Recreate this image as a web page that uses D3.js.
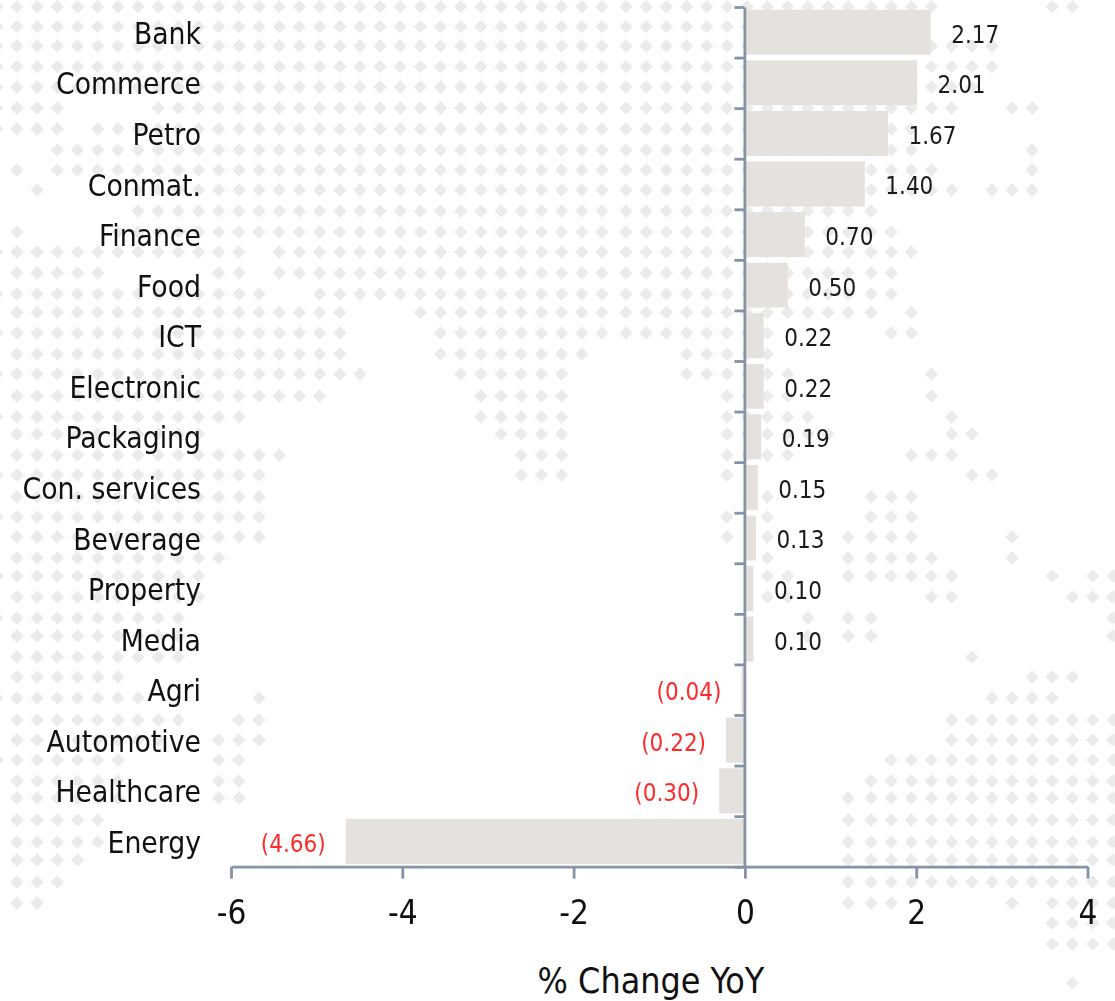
<!DOCTYPE html>
<html>
    <head>
        <meta charset="utf-8">
        <title>% Change YoY by sector</title>
        <script src="https://d3js.org/d3.v7.min.js"></script>
        <style>
            html, body { margin: 0; padding: 0; background: #fff; }
            svg { display: block; }
            text { font-family: "DejaVu Sans", sans-serif; font-stretch: condensed; }
            .map { filter: blur(0.4px); }
        </style>
    </head>
    <body>
        <script>
            const categories = ["Bank", "Commerce", "Petro", "Conmat.", "Finance", "Food", "ICT", "Electronic",
                "Packaging", "Con. services", "Beverage", "Property", "Media", "Agri", "Automotive", "Healthcare", "Energy"];
            const values = [2.17, 2.01, 1.67, 1.40, 0.70, 0.50, 0.22, 0.22, 0.19, 0.15, 0.13, 0.10, 0.10, -0.04, -0.22, -0.30, -4.66];
            const xTicks = [-6, -4, -2, 0, 2, 4];
            const xTitle = "% Change YoY";

            // dotted world map behind the chart: column ranges, one list per grid row
            const mapRows = [
                [[-1,45],[51,52]], [[-1,44]], [[-1,48]], [[-1,48]], [[-1,47]],
                [[-1,2],[7,46],[49,50]], [[-1,2],[4,44]], [[2,44],[50,50]], [[0,0],[2,45],[50,50]], [[1,1],[6,46],[48,50]],
                [[6,42]], [[0,0],[5,43]], [[-1,11],[13,44]], [[0,4],[10,11],[13,43]], [[-1,12],[15,43]],
                [[0,16],[20,42],[44,44]], [[-1,16],[21,37],[43,44]], [[0,16],[21,28],[33,37]], [[-1,17],[22,27],[33,38],[45,45]],
                [[0,15],[23,27],[35,38],[45,45]], [[-1,11],[23,27],[35,39],[46,46]], [[0,9],[24,27],[35,40],[46,47]],
                [[0,13],[25,27],[35,38],[44,46]], [[-1,12],[25,27],[35,35],[47,48]], [[0,12],[37,37],[42,44]],
                [[-1,12],[35,35],[37,37],[42,44]], [[0,12],[35,35],[37,37],[41,44],[49,49]], [[0,10],[37,37],[41,45],[49,49]],
                [[-1,9],[37,38],[41,46],[51,51],[53,54]], [[0,9],[37,38],[45,46],[52,54]], [[-1,8],[39,39],[41,42],[54,54]],
                [[0,8],[39,39],[41,42],[54,54]], [[0,8],[47,47]], [[0,5],[50,52]], [[-1,6],[12,12],[48,51]],
                [[0,8],[11,12],[46,54]], [[0,7],[10,12],[46,54]], [[-1,5],[10,11],[43,54]], [[0,5],[10,11],[42,54]],
                [[0,5],[10,11],[41,54]], [[0,4],[41,54]], [[0,4],[41,54]], [[0,3],[41,54]], [[0,2],[41,54]],
                [[0,1],[41,43],[49,49],[51,54]], [[51,54]], [[51,54]], [], [[52,52]]
            ];
            const mapRowY = [6.7, 26.7, 46, 66.7, 87, 108, 129, 150, 170, 190, 211, 232, 252, 273, 294, 312.5, 333, 354, 374, 396,
                417, 434, 455, 475, 497, 517, 537, 558, 576, 597, 618, 636, 657, 677, 698, 720, 740, 760, 781, 798, 820, 842, 860,
                882, 903, 923, 944, 963, 983];

            const width = 1115;
            const height = 1001;
            const axisColor = "#8593a8";

            const svg = d3.select("body").append("svg")
                .attr("width", width)
                .attr("height", height)
            ;

            // the map tiles have small seams, so the columns are not evenly spaced
            function mapX(c){
                if(c < 30) return 17 + 20.17 * c;
                if(c < 42) return 626 + 20.2 * (c - 30);
                return 871 + 20.15 * (c - 42);
            }
            const mapDots = [];
            mapRows.forEach((ranges, r) => {
                ranges.forEach(([a, b]) => {
                    d3.range(a, b + 1).forEach(c => mapDots.push({ c: c, r: r }));
                });
            });
            svg.append("g")
                .attr("class", "map")
                .selectAll("path")
                .data(mapDots).join("path")
                .attr("d", d3.symbol(d3.symbolSquare, 88))
                .attr("transform", d => `translate(${mapX(d.c)},${mapRowY[d.r]}) rotate(45)`)
                .attr("fill", "#ebebeb")
            ;

            const x = d3.scaleLinear().domain([-6, 4]).range([231, 1087.5]);
            const plotTop = 7;
            const plotBottom = 866.7;
            const y = d3.scaleBand().domain(categories).range([plotTop, plotBottom])
                .paddingInner(0.11).paddingOuter(0.055);
            const yEdges = d3.scaleLinear().domain([0, categories.length]).range([plotTop, plotBottom]);

            // 棒
            svg.append("g")
                .attr("class", "bars")
                .selectAll("rect")
                .data(categories).join("rect")
                .attr("x", (d, i) => Math.min(x(0), x(values[i])))
                .attr("y", d => y(d))
                .attr("width", (d, i) => Math.abs(x(values[i]) - x(0)))
                .attr("height", y.bandwidth())
                .attr("fill", "#e5e2dd")
            ;

            const fmt = d3.format(".2f");
            svg.append("g")
                .attr("class", "bar-labels")
                .selectAll("text")
                .data(categories).join("text")
                .attr("x", (d, i) => x(values[i]) + (values[i] < 0 ? -20 : 20.5))
                .attr("y", d => y(d) + y.bandwidth() / 2 + 10.5)
                .attr("text-anchor", (d, i) => values[i] < 0 ? "end" : "start")
                .attr("fill", (d, i) => values[i] < 0 ? "#ff2a2a" : "#1a1a1a")
                .style("font-size", "24px")
                .text((d, i) => values[i] < 0 ? `(${fmt(-values[i])})` : fmt(values[i]))
            ;

            // category names, no line or ticks of their own
            const catAxis = svg.append("g")
                .attr("class", "cat-axis")
                .attr("transform", "translate(201,0)")
                .call(d3.axisLeft(y).tickSize(0).tickPadding(0))
            ;
            catAxis.select(".domain").remove();
            catAxis.selectAll("text")
                .attr("dy", "0.39em")
                .attr("fill", "#111")
                .style("font-size", "29.7px")
            ;

            // y axis ticks sit between the bars
            const yAxis = svg.append("g")
                .attr("class", "y-axis")
                .attr("transform", `translate(${x(0) - 0.5},0)`)
                .call(d3.axisLeft(yEdges).tickValues(d3.range(categories.length + 1)).tickSize(10).tickSizeOuter(0).tickFormat(""))
            ;
            const xAxis = svg.append("g")
                .attr("class", "x-axis")
                .attr("transform", `translate(0,${plotBottom})`)
                .call(d3.axisBottom(x).tickValues(xTicks).tickSize(12).tickSizeOuter(0).tickPadding(22).tickFormat(d3.format("d")))
            ;
            svg.selectAll(".y-axis path, .y-axis line, .x-axis path, .x-axis line")
                .attr("stroke", axisColor)
                .attr("stroke-width", 2.8)
            ;
            xAxis.selectAll("text")
                .attr("fill", "#111")
                .style("font-size", "33px")
                .text(d => d < 0 ? "-" + Math.abs(d) : d)
            ;

            svg.append("text")
                .attr("class", "x-title")
                .attr("x", 651)
                .attr("y", 992.5)
                .attr("text-anchor", "middle")
                .attr("fill", "#111")
                .style("font-size", "35.5px")
                .text(xTitle)
            ;
        </script>
    </body>
</html>
